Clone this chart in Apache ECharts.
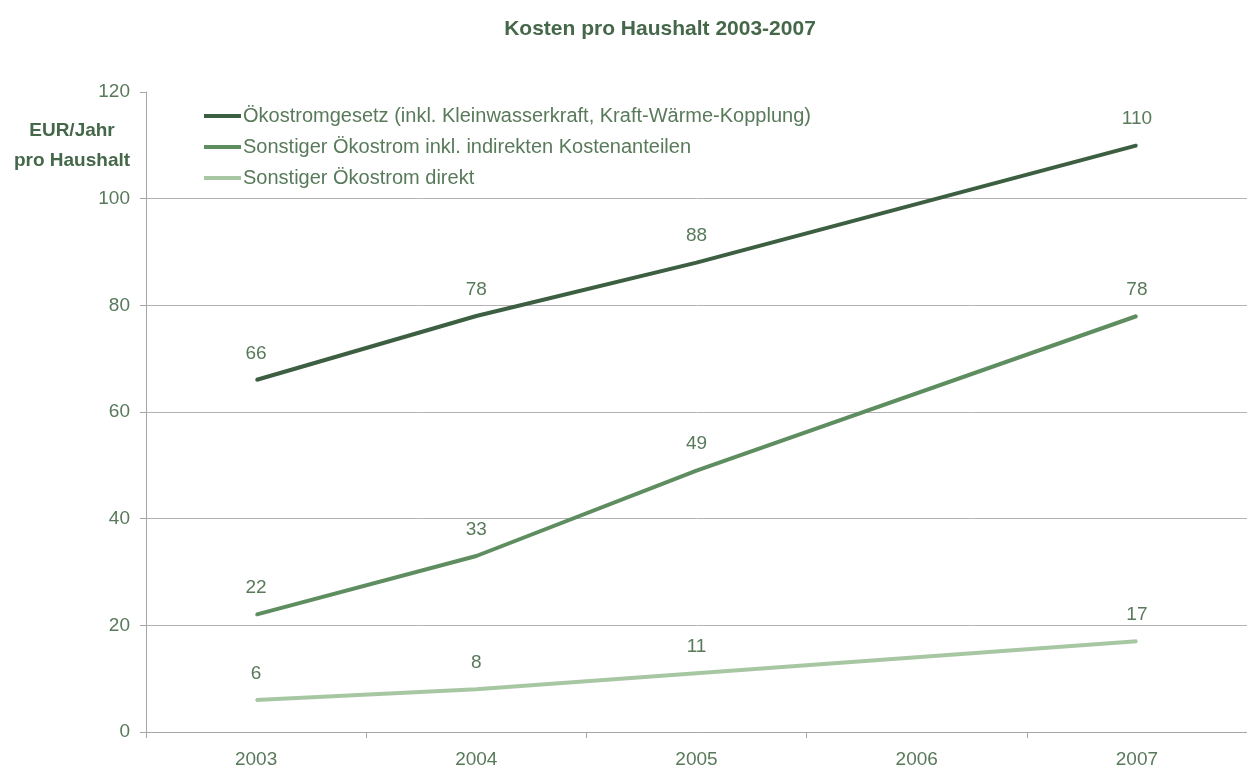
<!DOCTYPE html>
<html>
<head>
<meta charset="utf-8">
<script src="https://cdn.jsdelivr.net/npm/echarts@6/dist/echarts.min.js"></script>
<style>
  html, body { margin: 0; padding: 0; background: #ffffff; }
  #chart { width: 1247px; height: 771px; }
</style>
</head>
<body>
<div id="chart"></div>
<script>
// Years on the category axis
const years = ['2003', '2004', '2005', '2006', '2007'];

// Costs per household (EUR/year); 2006 has no published value
const oekostromgesetz = [66, 78, 88, null, 110];
const sonstigerIndirekt = [22, 33, 49, null, 78];
const sonstigerDirekt = [6, 8, 11, null, 17];

const seriesNames = [
  'Ökostromgesetz (inkl. Kleinwasserkraft, Kraft-Wärme-Kopplung)',
  'Sonstiger Ökostrom inkl. indirekten Kostenanteilen',
  'Sonstiger Ökostrom direkt'
];
const seriesColors = ['#3d5f41', '#5e8d60', '#a7c7a3'];
const seriesData = [oekostromgesetz, sonstigerIndirekt, sonstigerDirekt];

const textColor = '#587a5a';
const gridColor = '#b3b3b3';
const fontFamily = '"Liberation Sans", Arial, sans-serif';

const chart = echarts.init(document.getElementById('chart'), null, { renderer: 'canvas' });

chart.setOption({
  animation: false,
  backgroundColor: '#ffffff',
  textStyle: { fontFamily: fontFamily },
  title: {
    text: 'Kosten pro Haushalt 2003-2007',
    left: 655,
    textAlign: 'center',
    top: 14,
    textStyle: { color: '#46684a', fontSize: 21, fontWeight: 'bold', fontFamily: fontFamily }
  },
  graphic: [{
    type: 'text',
    x: 72,
    y: 116,
    style: {
      text: 'EUR/Jahr\npro Haushalt',
      fill: '#46684a',
      font: 'bold 19px ' + fontFamily,
      align: 'center',
      lineHeight: 30
    }
  }],
  legend: {
    orient: 'vertical',
    left: 199,
    top: 101,
    itemGap: 11,
    itemWidth: 37,
    itemHeight: 4,
    icon: 'rect',
    data: seriesNames.map((n, i) => ({ name: n, itemStyle: { color: seriesColors[i] } })),
    textStyle: { color: textColor, fontSize: 20, fontFamily: fontFamily, padding: [0, 0, 0, -3] }
  },
  grid: { left: 146, right: -4, top: 92, bottom: 39 },
  xAxis: {
    type: 'category',
    data: years,
    boundaryGap: true,
    axisLine: { lineStyle: { color: '#a6a6a6', width: 1 } },
    axisTick: { show: true, length: 6, lineStyle: { color: '#a6a6a6' } },
    axisLabel: { color: textColor, fontSize: 19, margin: 18, fontFamily: fontFamily }
  },
  yAxis: {
    type: 'value',
    min: 0,
    max: 120,
    interval: 20,
    axisLine: { show: true, lineStyle: { color: '#a6a6a6', width: 1 } },
    axisTick: { show: true, length: 6, lineStyle: { color: '#a6a6a6' } },
    axisLabel: { color: textColor, fontSize: 19, margin: 16, fontFamily: fontFamily },
    // gridlines from 0 to 100; the top edge at 120 stays open
    splitLine: {
      show: true,
      lineStyle: {
        color: [gridColor, gridColor, gridColor, gridColor, gridColor, gridColor, 'rgba(0,0,0,0)'],
        width: 1
      }
    }
  },
  series: seriesData.map((data, i) => ({
    name: seriesNames[i],
    type: 'line',
    data: data,
    connectNulls: true,
    symbol: 'circle',
    symbolSize: 2,
    showSymbol: true,
    itemStyle: { color: seriesColors[i] },
    lineStyle: { color: seriesColors[i], width: 4 },
    label: {
      show: true,
      position: 'top',
      distance: 16,
      color: textColor,
      fontSize: 19,
      fontFamily: fontFamily
    },
    z: 3 - i
  }))
});
</script>
</body>
</html>
